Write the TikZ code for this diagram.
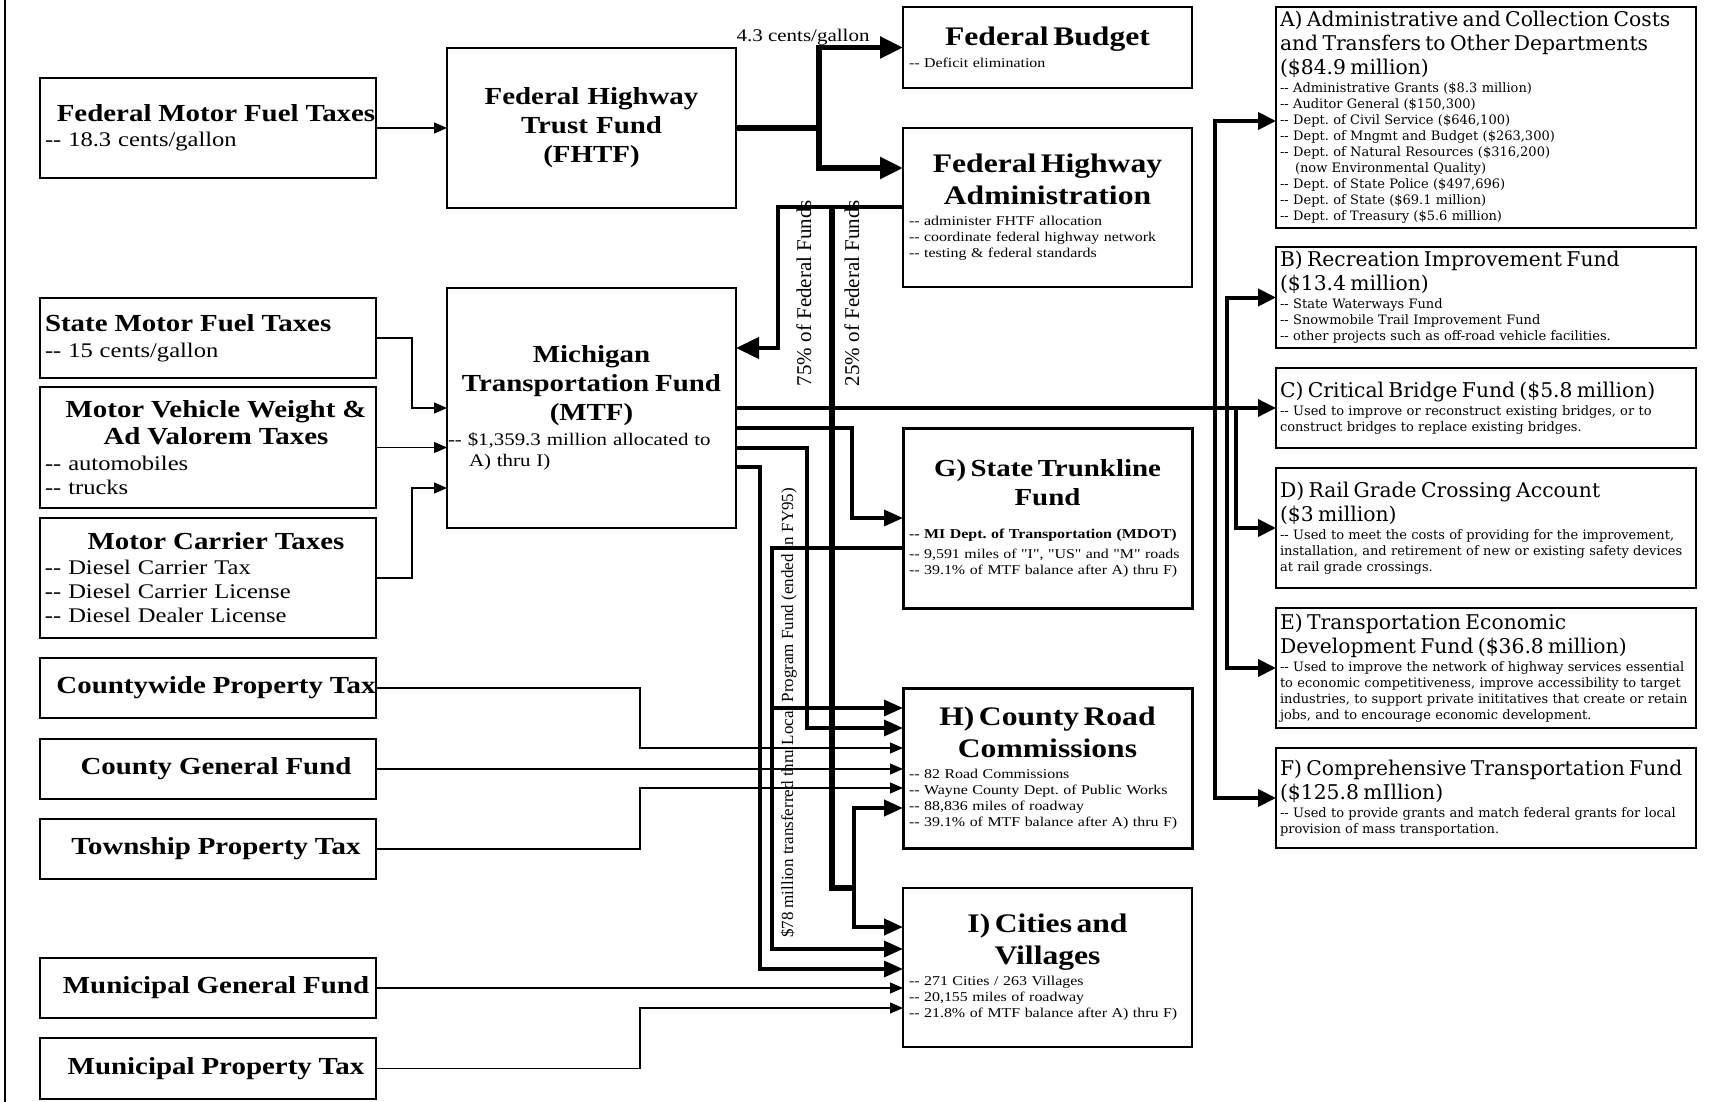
\documentclass[tikz,border=0pt]{standalone}
\usepackage{fontspec}
\usepackage{tikz}
\usetikzlibrary{arrows.meta}

\newfontfamily\mainserif{Liberation Serif}[FakeStretch=1.18]
\newfontfamily\plainserif{Liberation Serif}
\newfontfamily\wideserif{DejaVu Serif}
\frenchspacing

\newcommand{\srcttl}{\fontsize{24.5}{27}\selectfont\bfseries}
\newcommand{\srcitm}{\fontsize{20.8}{24}\selectfont\mdseries}
\newcommand{\fundttl}{\fontsize{24.5}{29}\selectfont\bfseries}
\newcommand{\bigttl}{\fontsize{26.8}{32}\selectfont\bfseries}
\newcommand{\mtfitm}{\fontsize{17.7}{21}\selectfont\mdseries}
\newcommand{\smitm}{\fontsize{13.5}{16}\selectfont\mdseries}
\newcommand{\outttl}{\fontsize{20.3}{24}\selectfont}
\newcommand{\outitm}{\fontsize{13}{16}\selectfont}
\newcommand{\ctr}[1]{\makebox[\linewidth]{#1}}
\newcommand{\sctr}[1]{\makebox[\linewidth]{\hspace*{16pt}#1}}

\begin{document}
\begin{tikzpicture}[
    x=1pt, y=-1pt,
    font=\mainserif,
    srcbox/.style={rectangle, draw, line width=1.3pt, anchor=north west, outer sep=0pt, minimum width=336pt, minimum height=60pt, text width=326pt, inner xsep=5pt, inner ysep=1pt, align=left, font=\mainserif\srcitm},
    fundbox/.style={rectangle, draw, line width=2.3pt, anchor=north west, outer sep=0pt, minimum width=289pt, text width=277pt, inner xsep=6pt, inner ysep=1pt, align=left, font=\mainserif\smitm},
    outbox/.style={rectangle, draw, line width=1.5pt, anchor=north west, outer sep=0pt, minimum width=420pt, text width=412pt, inner xsep=4pt, inner ysep=1pt, align=left, font=\wideserif\outitm},
    rotlabel/.style={rotate=90, anchor=base, inner sep=0pt, font=\plainserif\fontsize{21}{24}\selectfont},
    thinarrow/.style={-{Triangle[length=13pt, width=11pt]}, line width=1.1pt},
    midarrow/.style={-{Triangle[length=19pt, width=16pt]}, line width=3.3pt},
    trunkarrow/.style={-{Triangle[length=18pt, width=17pt]}, line width=4pt},
    fedarrow/.style={-{Triangle[length=23pt, width=21pt]}, line width=5.5pt}
]
    \useasboundingbox (0,0) rectangle (1711,1102);
    \draw [line width=1.6pt] (5,0) -- (5,1102);

    \node [srcbox, minimum height=100pt] (fmft) at (40,78) {\srcttl\sctr{Federal Motor Fuel Taxes}\\[1pt]\srcitm -{}- 18.3 cents/gallon};
    \node [srcbox, minimum height=80pt] (smft) at (40,298) {\srcttl State Motor Fuel Taxes\\[2pt]\srcitm -{}- 15 cents/gallon};
    \node [srcbox, minimum height=121pt] (mvw) at (40,387) {\srcttl\sctr{Motor Vehicle Weight \&}\\\sctr{Ad Valorem Taxes}\\[2pt]\srcitm -{}- automobiles\\-{}- trucks};
    \node [srcbox, minimum height=120pt] (mct) at (40,518) {\srcttl\sctr{Motor Carrier Taxes}\\[1pt]\srcitm -{}- Diesel Carrier Tax\\-{}- Diesel Carrier License\\-{}- Diesel Dealer License};
    \node [srcbox] (cpt) at (40,658) {\srcttl\sctr{Countywide Property Tax}};
    \node [srcbox] (cgf) at (40,739) {\srcttl\sctr{County General Fund}};
    \node [srcbox] (tpt) at (40,819) {\srcttl\sctr{Township Property Tax}};
    \node [srcbox] (mgf) at (40,958) {\srcttl\sctr{Municipal General Fund}};
    \node [srcbox, minimum height=61pt] (mpt) at (40,1038) {\srcttl\sctr{Municipal Property Tax}};

    \node [fundbox, minimum height=160pt, font=\mainserif\fundttl] (fhtf) at (447,48) {\ctr{Federal Highway}\\\ctr{Trust Fund}\\\ctr{(FHTF)}};
    \node [fundbox, minimum height=240pt, text width=287pt, inner xsep=1pt, font=\mainserif\mtfitm] (mtf) at (447,288) {\fundttl\ctr{Michigan}\\\ctr{Transportation Fund}\\\ctr{(MTF)}\\[4pt]\mtfitm -{}- \$1,359.3 million allocated to\\\hspace*{21pt}A) thru I)};
    \node [fundbox, minimum height=81pt] (fbud) at (903,7) {\bigttl\ctr{Federal Budget}\\[6pt]\smitm -{}- Deficit elimination};
    \node [fundbox, minimum height=159pt] (fhwa) at (903,128) {\bigttl\ctr{Federal Highway}\\\ctr{Administration}\\[5pt]\smitm -{}- administer FHTF allocation\\-{}- coordinate federal highway network\\-{}- testing \& federal standards};
    \node [fundbox, line width=3pt, minimum height=180pt] (stl) at (903,428) {\fundttl\ctr{G) State Trunkline}\\\ctr{Fund}\\[17pt]\smitm\mbox{\bfseries -{}- MI Dept. of Transportation (MDOT)}\\[4pt]-{}- 9,591 miles of "I", "US" and "M" roads\\-{}- 39.1\% of MTF balance after A) thru F)};
    \node [fundbox, line width=3pt, minimum height=160pt] (crc) at (903,688) {\bigttl\ctr{H) County Road}\\\ctr{Commissions}\\[5pt]\smitm -{}- 82 Road Commissions\\-{}- Wayne County Dept. of Public Works\\-{}- 88,836 miles of roadway\\-{}- 39.1\% of MTF balance after A) thru F)};
    \node [fundbox, line width=1.3pt, minimum height=159pt] (cav) at (903,888) {\bigttl\ctr{I) Cities and}\\\ctr{Villages}\\[5pt]\smitm -{}- 271 Cities / 263 Villages\\-{}- 20,155 miles of roadway\\-{}- 21.8\% of MTF balance after A) thru F)};

    \node [outbox, minimum height=221pt] (adm) at (1276,7) {\outttl A) Administrative and Collection Costs\\and Transfers to Other Departments\\(\$84.9 million)\\[2pt]\outitm -{}- Administrative Grants (\$8.3 million)\\-{}- Auditor General (\$150,300)\\-{}- Dept. of Civil Service (\$646,100)\\-{}- Dept. of Mngmt and Budget (\$263,300)\\-{}- Dept. of Natural Resources (\$316,200)\\\hspace*{15pt}(now Environmental Quality)\\-{}- Dept. of State Police (\$497,696)\\-{}- Dept. of State (\$69.1 million)\\-{}- Dept. of Treasury (\$5.6 million)};
    \node [outbox, minimum height=101pt] (rif) at (1276,247) {\outttl B) Recreation Improvement Fund\\(\$13.4 million)\\[2pt]\outitm -{}- State Waterways Fund\\-{}- Snowmobile Trail Improvement Fund\\-{}- other projects such as off-road vehicle facilities.};
    \node [outbox, minimum height=80pt] (cbf) at (1276,368) {\outttl C) Critical Bridge Fund (\$5.8 million)\\[2pt]\outitm -{}- Used to improve or reconstruct existing bridges, or to\\construct bridges to replace existing bridges.};
    \node [outbox, minimum height=120pt] (rgc) at (1276,468) {\outttl D) Rail Grade Crossing Account\\(\$3 million)\\[2pt]\outitm -{}- Used to meet the costs of providing for the improvement,\\installation, and retirement of new or existing safety devices\\at rail grade crossings.};
    \node [outbox, minimum height=120pt] (ted) at (1276,608) {\outttl E) Transportation Economic\\Development Fund (\$36.8 million)\\[2pt]\outitm -{}- Used to improve the network of highway services essential\\to economic competitiveness, improve accessibility to target\\industries, to support private inititatives that create or retain\\jobs, and to encourage economic development.};
    \node [outbox, minimum height=100pt] (ctf) at (1276,748) {\outttl F) Comprehensive Transportation Fund\\(\$125.8 mIllion)\\[2pt]\outitm -{}- Used to provide grants and match federal grants for local\\provision of mass transportation.};

    \node [anchor=base, inner sep=0pt, font=\mainserif\fontsize{17.8}{20}\selectfont] (gas) at (803,42) {4.3 cents/gallon};
    \node [rotlabel] (pct75) at (811,293) {75\% of Federal Funds};
    \node [rotlabel] (pct25) at (859,293) {25\% of Federal Funds};
    \node [rotlabel, font=\plainserif\fontsize{17}{20}\selectfont] (lpf) at (793,713) {\$78 million transferred thru Local Program Fund (ended in FY95)};

    \draw [thinarrow] (fmft) -- (fhtf);
    \draw [thinarrow] (smft.east) -- ++(36,0) |- (mtf.west);
    \draw [thinarrow] (mvw.east) -- (mtf.west |- mvw.east);
    \draw [thinarrow] (mct.east) -- ++(36,0) |- (mtf.west |- 0,488);
    \draw [thinarrow] (cpt.east) -- ++(264,0) |- (crc.west |- 0,748);
    \draw [thinarrow] (cgf.east) -- (crc.west |- cgf.east);
    \draw [thinarrow] (tpt.east) -- ++(264,0) |- (crc.west |- 0,788);
    \draw [thinarrow] (mgf.east) -- (cav.west |- mgf.east);
    \draw [thinarrow] (mpt.east) -- ++(264,0) |- (cav.west |- 0,1008);

    \coordinate (fsplit) at (819,128);
    \draw [line width=5.5pt] (fhtf.east) -- (fsplit);
    \draw [fedarrow] (fsplit) |- (fbud.west);
    \draw [fedarrow] (fsplit) |- (fhwa.west |- 0,168);
    \draw [fedarrow, line width=4pt] (fhwa.west) -| (778,348) -- (mtf.east |- 0,348);

    \coordinate (qsplit) at (854,888);
    \draw [line width=5.5pt] (fhwa.west -| 832,0) |- (qsplit);
    \draw [midarrow, line width=4pt] (qsplit) |- (crc.west |- 0,808);
    \draw [midarrow, line width=4pt] (qsplit) |- (cav.west |- 0,927);

    \draw [midarrow] (mtf.east |- 0,428) -| (852,518) -- (stl.west);
    \draw [midarrow] (mtf.east |- 0,448) -| (807,728) -- (crc.west |- 0,728);
    \draw [midarrow] (mtf.east |- 0,467) -| (760,969) -- (cav.west |- 0,969);

    \coordinate (lsplit) at (772,708);
    \draw [midarrow] (stl.west |- 0,548) -| (772,949) -- (cav.west |- 0,949);
    \draw [midarrow] (lsplit) -- (crc.west |- lsplit);

    \coordinate (ta) at (1215,408);
    \coordinate (tb) at (1227,408);
    \coordinate (td) at (1236,408);
    \draw [trunkarrow, line width=3.5pt] (mtf.east) -- (cbf.west);
    \draw [trunkarrow] (ta) |- (adm.west |- 0,121);
    \draw [trunkarrow] (ta) |- (ctf.west);
    \draw [trunkarrow] (tb) |- (rif.west);
    \draw [trunkarrow] (tb) |- (ted.west);
    \draw [trunkarrow] (td) |- (rgc.west);
\end{tikzpicture}
\end{document}
